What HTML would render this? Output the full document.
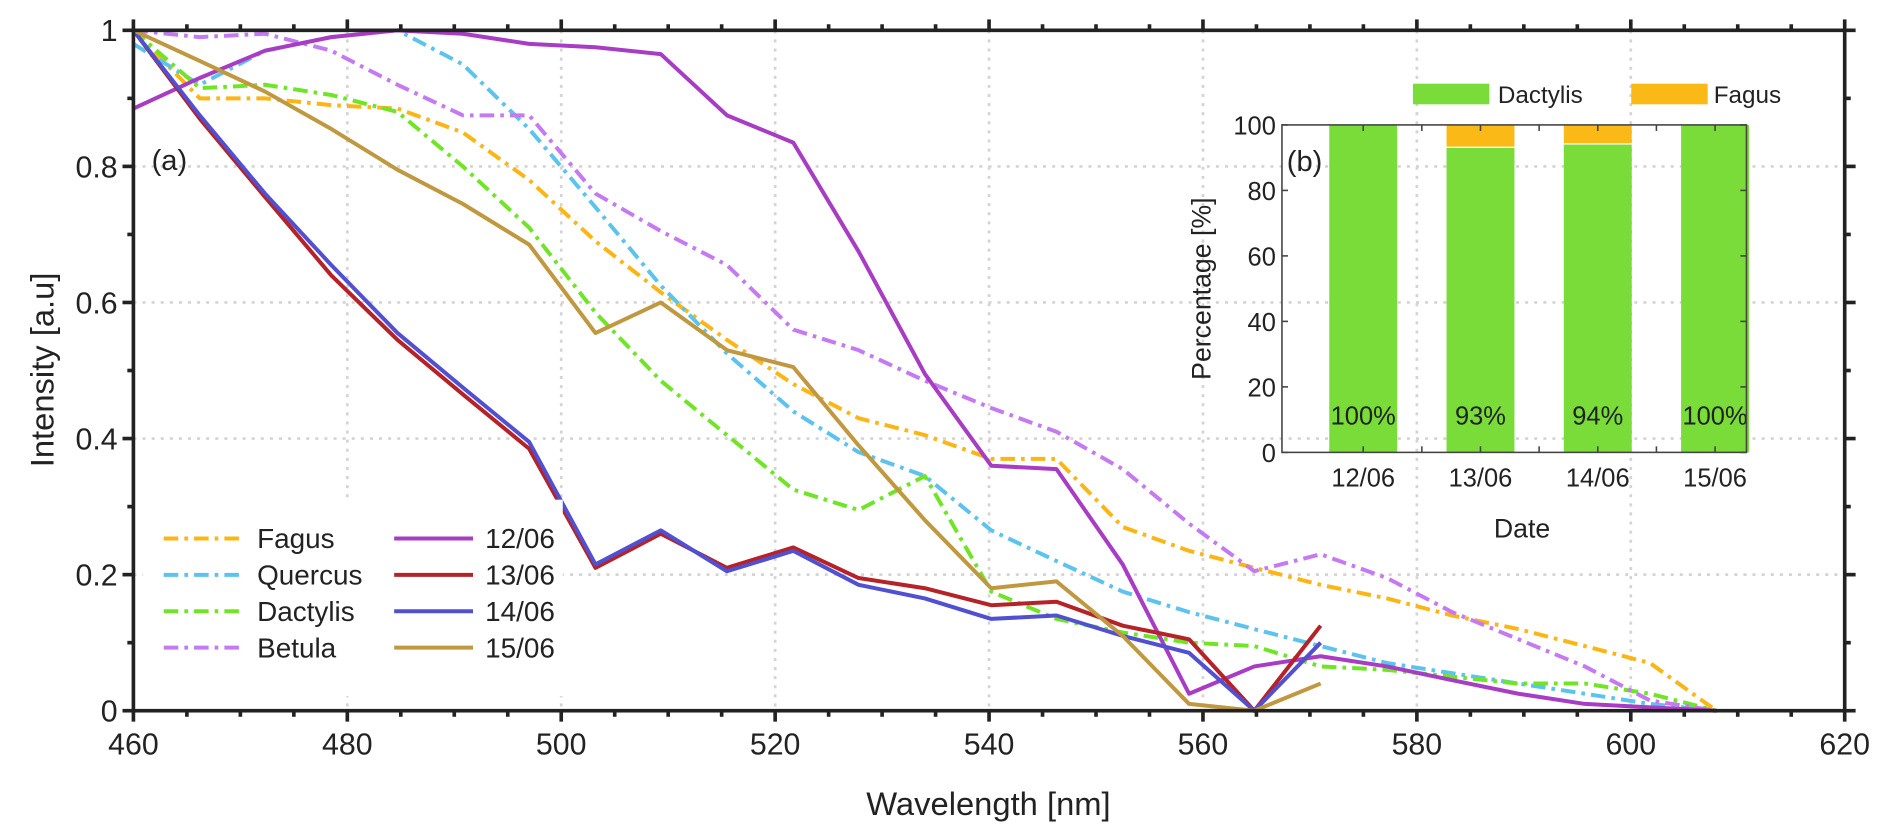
<!DOCTYPE html>
<html><head><meta charset="utf-8">
<style>
html,body{margin:0;padding:0;background:#fff;}
svg{display:block;}
text{font-family:"Liberation Sans",sans-serif;fill:#222;}
</style></head>
<body>
<svg id="chart" width="1892" height="840" viewBox="0 0 1560 692.6" preserveAspectRatio="none" xmlns="http://www.w3.org/2000/svg"></svg>
<script>
const wavelengths = [460,466.2,472.3,478.5,484.7,490.8,497,503.2,509.3,515.5,521.7,527.8,534,540.2,546.3,552.5,558.7,564.8,571,577.2,583.3,589.5,595.7,601.8,608];
const fagus    = [1,0.90,0.90,0.89,0.885,0.85,0.78,0.69,0.615,0.545,0.48,0.43,0.405,0.37,0.37,0.27,0.235,0.21,0.185,0.165,0.14,0.12,0.095,0.07,0];
const quercus  = [0.98,0.92,0.97,0.99,1.0,0.95,0.855,0.74,0.625,0.525,0.44,0.38,0.345,0.265,0.22,0.175,0.145,0.12,0.095,0.07,0.055,0.04,0.025,0.01,0];
const dactylis = [1,0.915,0.92,0.905,0.88,0.8,0.71,0.585,0.485,0.405,0.325,0.295,0.345,0.175,0.135,0.115,0.1,0.095,0.065,0.06,0.05,0.04,0.04,0.025,0];
const betula   = [1,0.99,0.995,0.97,0.92,0.875,0.875,0.76,0.705,0.655,0.56,0.53,0.485,0.445,0.41,0.355,0.275,0.205,0.23,0.195,0.145,0.105,0.065,0.015,0];
const d1206 = [0.885,0.93,0.97,0.99,1.0,0.995,0.98,0.975,0.965,0.875,0.835,0.675,0.495,0.36,0.355,0.215,0.025,0.065,0.08,0.065,0.045,0.025,0.01,0.005,0];
const d1306 = [1,0.87,0.755,0.64,0.545,0.465,0.385,0.21,0.26,0.21,0.24,0.195,0.18,0.155,0.16,0.125,0.105,0,0.125];
const d1406 = [1,0.875,0.76,0.655,0.555,0.475,0.395,0.215,0.265,0.205,0.235,0.185,0.165,0.135,0.14,0.11,0.085,0,0.1];
const d1506 = [1,0.955,0.91,0.855,0.795,0.745,0.685,0.555,0.6,0.53,0.505,0.39,0.28,0.18,0.19,0.11,0.01,0,0.04];
const xTicks = [460,480,500,520,540,560,580,600,620];
const yTicks = [0,0.2,0.4,0.6,0.8,1];
const yTickLabels = ["0","0.2","0.4","0.6","0.8","1"];
const dates = ["12/06","13/06","14/06","15/06"];
const dactylisPct = [100,93,94,100];
const fagusPct = [0,7,6,0];
const pctLabels = ["100%","93%","94%","100%"];
const pctTicks = [0,20,40,60,80,100];

const NS="http://www.w3.org/2000/svg";
const svg=document.getElementById('chart');
function mk(tag,attrs,parent){const e=document.createElementNS(NS,tag);for(const k in attrs)e.setAttribute(k,attrs[k]);(parent||svg).appendChild(e);return e;}
const L=110,R=1521,T=25,B=586;
const sx=v=>L+(v-460)/160*(R-L);
const sy=v=>B-v*(B-T);

const grid=mk('g',{});


xTicks.slice(1,-1).forEach(t=>{mk('line',{x1:sx(t),x2:sx(t),y1:T,y2:B,stroke:'#d4d4d4','stroke-width':2.2,'stroke-dasharray':'2.5,5'},grid);});
yTicks.slice(1,-1).forEach(t=>{mk('line',{x1:L,x2:R,y1:sy(t),y2:sy(t),stroke:'#d4d4d4','stroke-width':2.2,'stroke-dasharray':'2.5,5'},grid);});

const series=[
 {name:'Fagus',data:fagus,color:'#fdb515',dash:'12,5,3,5'},
 {name:'Quercus',data:quercus,color:'#5bc3ee',dash:'12,5,3,5'},
 {name:'Dactylis',data:dactylis,color:'#6fe526',dash:'12,5,3,5'},
 {name:'Betula',data:betula,color:'#c57af2',dash:'12,5,3,5'},
 {name:'12/06',data:d1206,color:'#a83cc4',dash:''},
 {name:'13/06',data:d1306,color:'#b52227',dash:''},
 {name:'14/06',data:d1406,color:'#5050d0',dash:''},
 {name:'15/06',data:d1506,color:'#c09840',dash:''}
];
const lines=mk('g',{});


series.forEach(s=>{
 const pts=s.data.map((v,i)=>sx(wavelengths[i]).toFixed(1)+','+sy(v).toFixed(1)).join(' ');
 const p=mk('polyline',{points:pts,fill:'none',stroke:s.color,'stroke-width':3.3,'stroke-linejoin':'round'},lines);
 if(s.dash)p.setAttribute('stroke-dasharray',s.dash);
 
 
});

const lg=mk('g',{});


mk('rect',{x:118,y:412,width:346,height:162,fill:'#fff'},lg);
series.forEach((s,i)=>{
 const col=Math.floor(i/4),row=i%4;
 const x0=col?325:135,y0=444+row*30;
 const e=mk('g',{},lg);
 
 
 const ln=mk('line',{x1:x0,x2:x0+65,y1:y0,y2:y0,stroke:s.color,'stroke-width':3.3},e);
 if(s.dash)ln.setAttribute('stroke-dasharray',s.dash);
 const t=mk('text',{x:col?400:212,y:y0+8,'font-size':23},e);t.textContent=s.name;
});

const ax=mk('g',{});


mk('rect',{x:L,y:T,width:R-L,height:B-T,fill:'none',stroke:'#222','stroke-width':3},ax);
for(let v=460;v<=620;v+=5){const maj=v%20===0;const len=maj?9:5;
 mk('line',{x1:sx(v),x2:sx(v),y1:B,y2:B+len,stroke:'#222','stroke-width':3},ax);
 mk('line',{x1:sx(v),x2:sx(v),y1:T,y2:T-len,stroke:'#222','stroke-width':3},ax);}
for(let k=0;k<=10;k++){const v=k/10;const len=k%2===0?9:5;
 mk('line',{x1:L,x2:L-len,y1:sy(v),y2:sy(v),stroke:'#222','stroke-width':3},ax);
 mk('line',{x1:R,x2:R+len,y1:sy(v),y2:sy(v),stroke:'#222','stroke-width':3},ax);}
xTicks.forEach(t=>{const e=mk('text',{x:sx(t),y:622,'font-size':25,'text-anchor':'middle'},ax);e.textContent=t;
 
 });
yTicks.forEach((t,i)=>{const e=mk('text',{x:97,y:sy(t)+9,'font-size':25,'text-anchor':'end'},ax);e.textContent=yTickLabels[i];
 
 });
</script>
<script>
(function(){
const NS="http://www.w3.org/2000/svg";
const svg=document.getElementById('chart');
function mk(tag,attrs,parent){const e=document.createElementNS(NS,tag);for(const k in attrs)e.setAttribute(k,attrs[k]);(parent||svg).appendChild(e);return e;}
const t1=mk('text',{x:815,y:672,'font-size':27,'text-anchor':'middle'});t1.textContent='Wavelength [nm]';


const t2=mk('text',{x:0,y:0,'font-size':27,'text-anchor':'middle',transform:'translate(44,305) rotate(-90)'});t2.textContent='Intensity [a.u]';


const ta=mk('text',{x:125,y:140,'font-size':24});ta.textContent='(a)';



const IL=1057,IR=1440,IT=103,IB=373;
const cx=i=>1124+96.7*i;
const py=v=>IB-v/100*(IB-IT);
const g=mk('g',{});


dates.forEach((d,i)=>{
 const b1=mk('rect',{x:cx(i)-28,y:py(dactylisPct[i]),width:56,height:IB-py(dactylisPct[i]),fill:'#79dc39'},g);
 
 
 if(fagusPct[i]>0){
  const b2=mk('rect',{x:cx(i)-28,y:py(dactylisPct[i]+fagusPct[i]),width:56,height:py(dactylisPct[i])-py(dactylisPct[i]+fagusPct[i])-1,fill:'#fbb917'},g);
  
  
 }
 const lt=mk('text',{x:cx(i),y:350,'font-size':21,'text-anchor':'middle'},g);lt.textContent=pctLabels[i];
 
 
 const xt=mk('text',{x:cx(i),y:401,'font-size':21,'text-anchor':'middle'},g);xt.textContent=d;
 
 
});
mk('rect',{x:IL,y:IT,width:IR-IL,height:IB-IT,fill:'none',stroke:'#444','stroke-width':1.3},g);
for(let k=0;k<7;k++){const x=1124+48.35*k;
 mk('line',{x1:x,x2:x,y1:IB,y2:IB-5,stroke:'#444','stroke-width':1.3},g);
 mk('line',{x1:x,x2:x,y1:IT,y2:IT+5,stroke:'#444','stroke-width':1.3},g);}
pctTicks.forEach(t=>{
 mk('line',{x1:IL,x2:IL+5,y1:py(t),y2:py(t),stroke:'#444','stroke-width':1.3},g);
 mk('line',{x1:IR,x2:IR-5,y1:py(t),y2:py(t),stroke:'#444','stroke-width':1.3},g);
 const e=mk('text',{x:1052,y:py(t)+8,'font-size':21,'text-anchor':'end'},g);e.textContent=t;
 
 
});
const tb=mk('text',{x:1061,y:141,'font-size':24},g);tb.textContent='(b)';


const it=mk('text',{x:1255,y:443,'font-size':22,'text-anchor':'middle'},g);it.textContent='Date';


const iy=mk('text',{x:0,y:0,'font-size':22,'text-anchor':'middle',transform:'translate(998,238) rotate(-90)'},g);iy.textContent='Percentage [%]';


const il=mk('g',{},g);


mk('rect',{x:1165,y:69,width:63,height:17,fill:'#79dc39'},il);
const l1=mk('text',{x:1235,y:85,'font-size':20},il);l1.textContent='Dactylis';
mk('rect',{x:1345,y:69,width:63,height:17,fill:'#fbb917'},il);
const l2=mk('text',{x:1413,y:85,'font-size':20},il);l2.textContent='Fagus';
})();
</script>
</body></html>
